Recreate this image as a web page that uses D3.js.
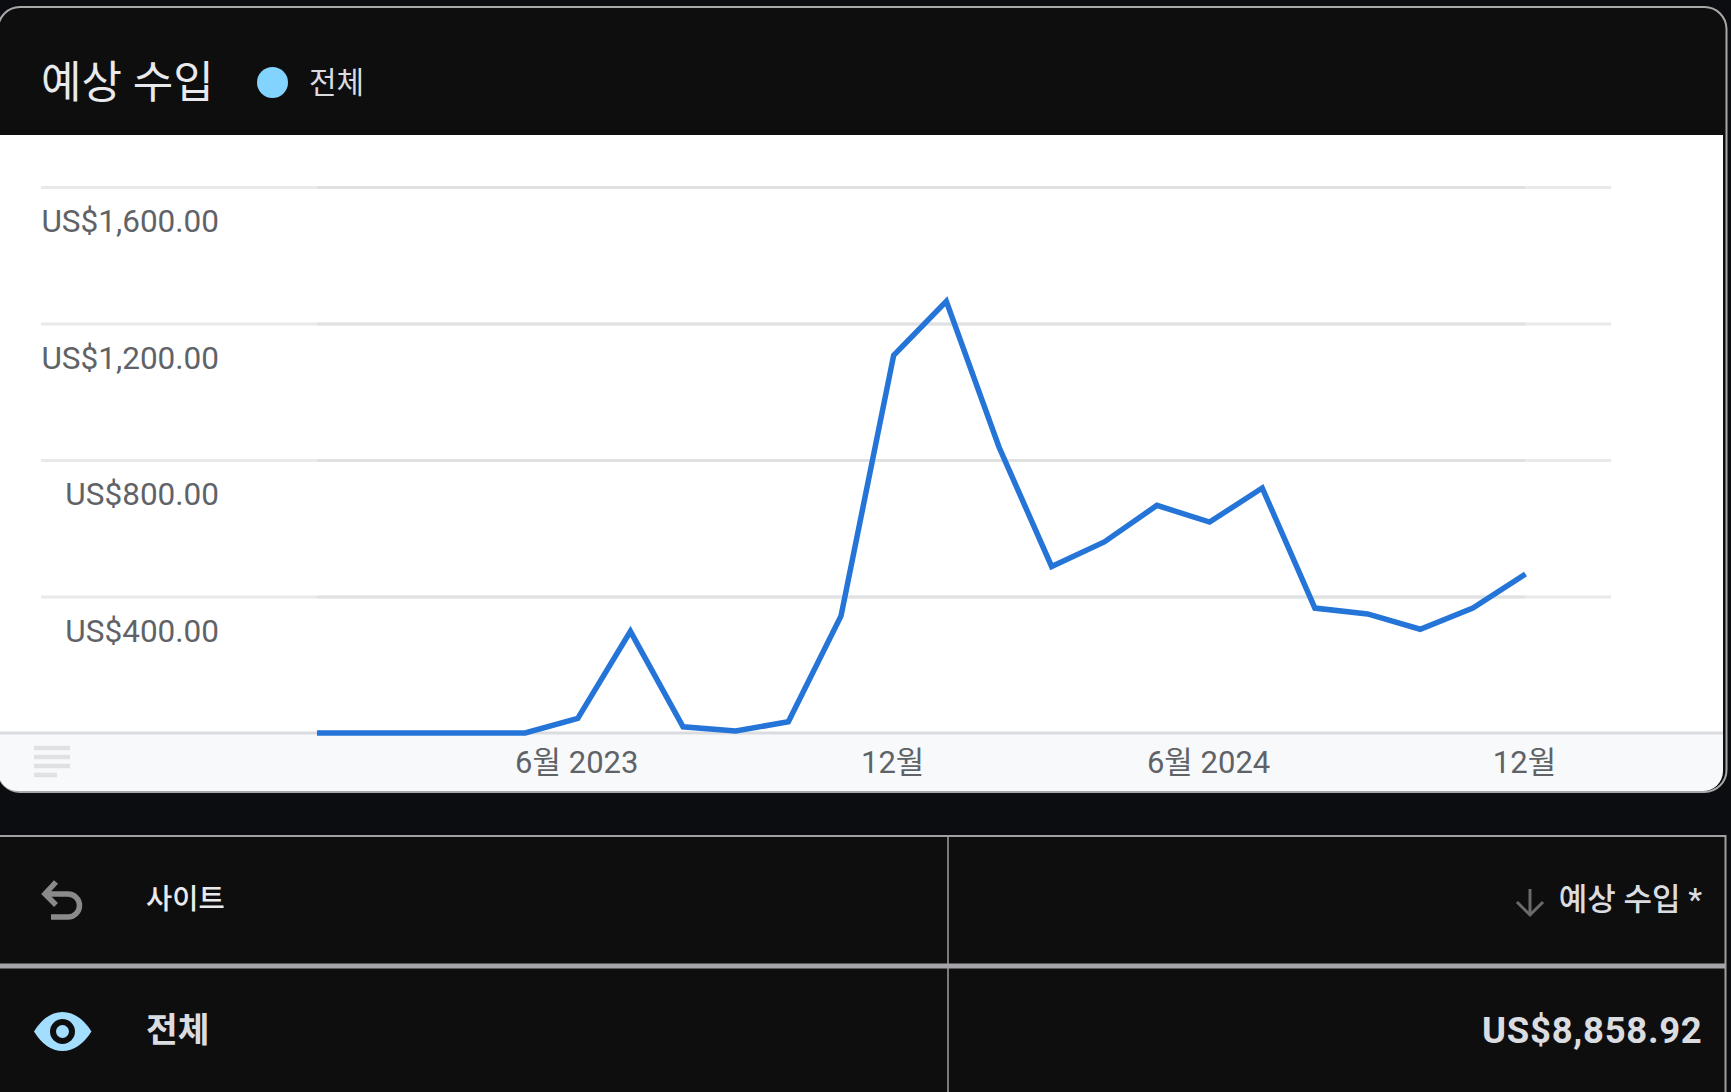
<!DOCTYPE html>
<html>
<head>
<meta charset="utf-8">
<script src="https://d3js.org/d3.v7.min.js"></script>
<style>
  body { margin: 0; background: #0b0d10; }
  svg { display: block; }
  text { font-family: Roboto, "Noto Sans CJK KR", sans-serif; }
</style>
</head>
<body>
<script>
var months = ["2023-01", "2023-02", "2023-03", "2023-04", "2023-05", "2023-06", "2023-07", "2023-08",
    "2023-09", "2023-10", "2023-11", "2023-12", "2024-01", "2024-02", "2024-03", "2024-04",
    "2024-05", "2024-06", "2024-07", "2024-08", "2024-09", "2024-10", "2024-11", "2024-12"];
var revenue = [0, 0, 0, 0, 0, 43, 298, 18, 6, 33, 343, 1107, 1265, 838, 488, 560, 667, 618, 718, 366, 349, 304, 366, 466];
var yTicks = [400, 800, 1200, 1600];
var xTicks = ["2023-06", "2023-12", "2024-06", "2024-12"];
var xTickLabels = ["6월 2023", "12월", "6월 2024", "12월"];

var width = 1731, height = 1092;

var svg = d3.select("body")
    .append("svg")
    .attr("width", width)
    .attr("height", height);

var xScale = d3.scalePoint().domain(months).range([314.5, 1525.5]),
    yScale = d3.scaleLinear().domain([0, 1600]).range([733, 187]);

// card
var panel = "M-2,135 H1723 V771 a20,20 0 0 1 -20,20 H18 a20,20 0 0 1 -20,-20 Z";
svg.append("rect")
    .attr("x", -2).attr("y", 7)
    .attr("width", 1728.5).attr("height", 785)
    .attr("rx", 22)
    .attr("fill", "#0e0e0f")
    .attr("stroke", "#a8a8a8")
    .attr("stroke-width", 2);
svg.append("clipPath").attr("id", "panel").append("path").attr("d", panel);
var body = svg.append("g").attr("clip-path", "url(#panel)");
body.append("rect").attr("x", 0).attr("y", 135).attr("width", 1723).attr("height", 598).attr("fill", "#fff");
body.append("rect").attr("x", 0).attr("y", 733).attr("width", 1723).attr("height", 58).attr("fill", "#f8f9fa");

// header
svg.append("text").attr("x", 41).attr("y", 98)
    .attr("font-size", 44).attr("fill", "#e8eaed").text("예상 수입");
svg.append("circle").attr("cx", 272.5).attr("cy", 82.5).attr("r", 15.5).attr("fill", "#82d4ff");
svg.append("text").attr("x", 309).attr("y", 93)
    .attr("font-size", 30).attr("fill", "#dadce0").text("전체");

// gridlines, lighter past the ends of the series
var grid = svg.append("g").attr("transform", "translate(41,0)")
    .call(d3.axisRight(yScale).tickValues(yTicks).tickSize(1570).tickFormat(""));
grid.select(".domain").remove();
grid.selectAll("line").attr("stroke", "#e8e9eb").attr("stroke-width", 3);
var gridMid = svg.append("g").attr("transform", "translate(317,0)")
    .call(d3.axisRight(yScale).tickValues(yTicks).tickSize(1208).tickFormat(""));
gridMid.select(".domain").remove();
gridMid.selectAll("line").attr("stroke", "#e0e1e3").attr("stroke-width", 3);

// baseline
svg.append("line").attr("x1", 0).attr("x2", 1723)
    .attr("y1", yScale(0)).attr("y2", yScale(0))
    .attr("stroke", "#dadce0").attr("stroke-width", 3);

var yAxis = svg.append("g").attr("transform", "translate(219,0)")
    .call(d3.axisLeft(yScale).tickValues(yTicks).tickSize(0).tickPadding(0)
        .tickFormat(function (d) { return "US$" + d3.format(",.2f")(d); }));
yAxis.select(".domain").remove();
yAxis.selectAll("text")
    .attr("font-size", 31.5)
    .attr("font-family", "Roboto")
    .attr("fill", "#5f6368")
    .attr("dy", 44.5);

var xAxis = svg.append("g").attr("transform", "translate(0,733)")
    .call(d3.axisBottom(xScale).tickValues(xTicks).tickSize(0).tickPadding(0)
        .tickFormat(function (d, i) { return xTickLabels[i]; }));
xAxis.select(".domain").remove();
xAxis.selectAll("text")
    .attr("font-size", 31)
    .attr("fill", "#5f6368")
    .attr("x", -1.5)
    .attr("y", 40).attr("dy", 0);

var line = d3.line()
    .x(function (d, i) { return xScale(months[i]); })
    .y(function (d) { return yScale(d); });

svg.append("clipPath").attr("id", "plot").append("rect")
    .attr("x", 317).attr("y", 135).attr("width", 1300).attr("height", 620);

svg.append("path")
    .datum(revenue)
    .attr("d", line)
    .attr("clip-path", "url(#plot)")
    .attr("fill", "none")
    .attr("stroke", "#2574d8")
    .attr("stroke-width", 5.5)
    .attr("stroke-linejoin", "miter");

// little menu icon in the footer
[[748, 70], [757, 70], [766, 70], [775, 57]].forEach(function (r) {
    svg.append("line").attr("x1", 34).attr("x2", r[1]).attr("y1", r[0]).attr("y2", r[0])
        .attr("stroke", "#dfe2e5").attr("stroke-width", 4.5);
});

// table
svg.append("rect").attr("x", -3).attr("y", 836)
    .attr("width", 1728.5).attr("height", 270)
    .attr("fill", "#0e0e0f").attr("stroke", "#a0a0a0").attr("stroke-width", 2);
svg.append("line").attr("x1", 0).attr("x2", 1725).attr("y1", 966).attr("y2", 966)
    .attr("stroke", "#a6a6aa").attr("stroke-width", 5);
svg.append("line").attr("x1", 948).attr("x2", 948).attr("y1", 836).attr("y2", 1092)
    .attr("stroke", "#a0a0a0").attr("stroke-width", 1.5);

// undo icon
svg.append("path")
    .attr("d", "M56,882 L45,894 L56,905 M45,894 H68 a11.5,11.5 0 0 1 0,23 H51")
    .attr("fill", "none").attr("stroke", "#8a8a8a").attr("stroke-width", 5.5);

// eye icon
svg.append("path")
    .attr("d", "M34,1031.5 Q46,1012 62.5,1012 Q79,1012 91.5,1031.5 Q79,1051 62.5,1051 Q46,1051 34,1031.5 Z")
    .attr("fill", "#a3deff");
svg.append("circle").attr("cx", 62.5).attr("cy", 1031.5).attr("r", 12.5).attr("fill", "#0e0e0f");
svg.append("circle").attr("cx", 62.5).attr("cy", 1031.5).attr("r", 6.5).attr("fill", "#a3deff");

svg.append("text").attr("x", 146).attr("y", 909)
    .attr("font-size", 28.5).attr("font-weight", 500).attr("fill", "#e8eaed").text("사이트");
svg.append("text").attr("x", 146).attr("y", 1042)
    .attr("font-size", 34.5).attr("font-weight", 700).attr("fill", "#dadce0").text("전체");

// sort arrow + column head
svg.append("path")
    .attr("d", "M1530,889 V914 M1517,902 L1530,915 L1543,902")
    .attr("fill", "none").attr("stroke", "#6a6a6a").attr("stroke-width", 3);
svg.append("text").attr("x", 1702).attr("y", 910).attr("text-anchor", "end")
    .attr("font-size", 31).attr("font-weight", 500).attr("fill", "#dadce0").text("예상 수입 *");
svg.append("text").attr("x", 1702.5).attr("y", 1043).attr("text-anchor", "end")
    .attr("font-size", 36.5).attr("font-weight", 700).attr("letter-spacing", 0.7).attr("fill", "#dadce0").text("US$8,858.92");
</script>
</body>
</html>
